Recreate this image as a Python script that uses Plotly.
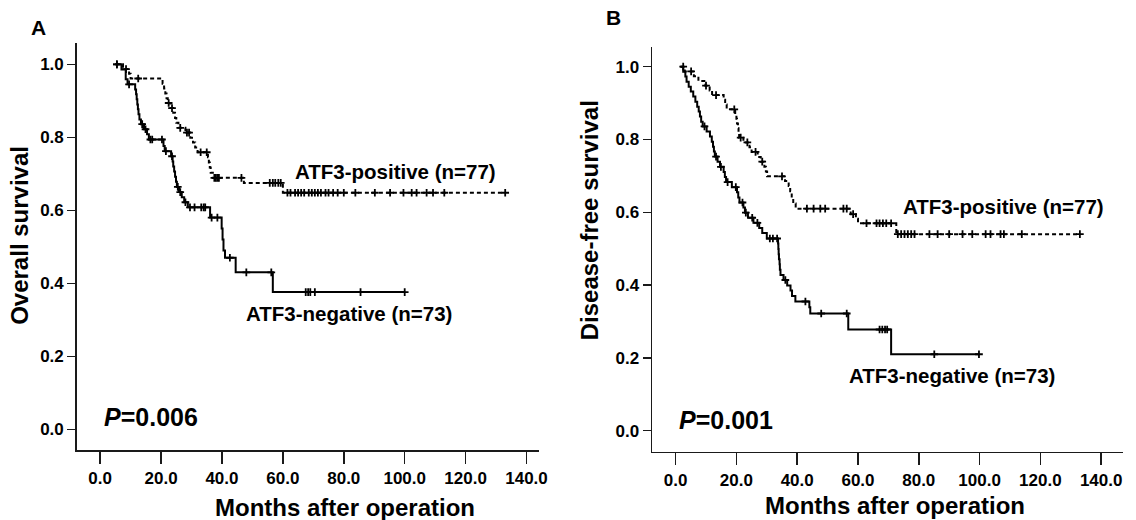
import plotly.graph_objects as go

# ---------------- data ----------------
x_tick_vals = [0, 20, 40, 60, 80, 100, 120, 140]
x_tick_text = ["0.0", "20.0", "40.0", "60.0", "80.0", "100.0", "120.0", "140.0"]
y_tick_vals = [0.0, 0.2, 0.4, 0.6, 0.8, 1.0]
y_tick_text = ["0.0", "0.2", "0.4", "0.6", "0.8", "1.0"]

# Panel A - Overall survival, ATF3-negative (solid)
a_neg_start = 5.0
a_neg_t = [7.0, 8.4, 9.0, 11.5, 11.8, 12.0, 12.2, 12.4, 12.6, 12.9, 13.4, 14.4, 15.4, 16.0,
           20.8, 21.2, 23.3, 23.8, 24.0, 24.3, 24.6, 24.9, 25.2, 25.9, 26.8, 27.6, 28.8,
           36.1, 39.9, 40.2, 40.5, 41.0, 44.5, 56.7]
a_neg_s = [0.986, 0.959, 0.945, 0.931, 0.918, 0.904, 0.890, 0.877, 0.863, 0.849, 0.836, 0.822, 0.808, 0.794,
           0.776, 0.762, 0.748, 0.734, 0.720, 0.706, 0.692, 0.678, 0.664, 0.650, 0.636, 0.622, 0.608,
           0.580, 0.550, 0.520, 0.490, 0.470, 0.430, 0.376]
a_neg_end = 100.0
a_neg_cens_t = [5.5, 9.5, 13.8, 14.9, 16.5, 17.1, 20.3, 21.6, 23.6, 25.5, 26.3, 28.0, 29.5, 31.0, 33.2,
                34.0, 34.5, 36.6, 38.5, 42.6, 48.0, 56.2, 67.5, 68.3, 69.0, 70.5, 85.5, 100.0]
a_neg_cens_s = [1.0, 0.945, 0.836, 0.822, 0.794, 0.794, 0.794, 0.762, 0.748, 0.664, 0.650, 0.622, 0.608, 0.608, 0.608,
                0.608, 0.608, 0.580, 0.580, 0.470, 0.430, 0.430, 0.376, 0.376, 0.376, 0.376, 0.376, 0.376]

# Panel A - ATF3-positive (dashed)
a_pos_start = 5.0
a_pos_t = [7.5, 9.5, 10.0, 20.5, 21.0, 21.4, 21.8, 22.2, 23.0, 24.0, 24.6, 25.0, 25.7, 28.0, 29.6, 30.5,
           31.2, 32.0, 35.4, 35.7, 36.0, 36.3, 37.0, 47.2, 60.0]
a_pos_s = [0.987, 0.974, 0.961, 0.947, 0.934, 0.920, 0.907, 0.894, 0.880, 0.867, 0.853, 0.840, 0.826, 0.813, 0.799, 0.786,
           0.772, 0.759, 0.745, 0.731, 0.717, 0.703, 0.689, 0.675, 0.648]
a_pos_end = 133.0
a_pos_cens_t = [5.5, 8.5, 12.5, 22.5, 23.6, 26.3, 28.5, 29.2, 33.0, 35.0, 37.5, 38.0, 38.5, 39.0, 46.4,
                55.7, 56.7, 57.5, 58.5, 59.3, 61.5, 62.5, 64.0, 65.0, 66.0, 67.0, 68.5, 69.5, 70.5, 71.5,
                72.5, 74.0, 75.0, 76.5, 78.0, 80.0, 83.8, 90.2, 95.2, 99.6, 102.3, 103.9, 107.2, 109.3, 113.0, 133.0]
a_pos_cens_s = [1.0, 0.987, 0.961, 0.894, 0.880, 0.826, 0.813, 0.813, 0.759, 0.759, 0.689, 0.689, 0.689, 0.689, 0.689,
                0.675, 0.675, 0.675, 0.675, 0.675, 0.648, 0.648, 0.648, 0.648, 0.648, 0.648, 0.648, 0.648, 0.648, 0.648,
                0.648, 0.648, 0.648, 0.648, 0.648, 0.648, 0.648, 0.648, 0.648, 0.648, 0.648, 0.648, 0.648, 0.648, 0.648, 0.648]

# Panel B - Disease-free survival, ATF3-negative (solid)
b_neg_start = 1.6
b_neg_t = [2.5, 3.2, 3.6, 4.3, 5.0, 5.8, 6.5, 7.1, 7.6, 8.0, 8.4, 8.9, 10.2, 11.3, 11.9, 12.3, 12.6, 12.9,
           13.8, 14.6, 15.8, 16.2, 16.6, 18.5, 20.2, 20.6, 21.0, 22.3, 22.8, 23.8, 25.6, 27.5, 28.5, 30.0,
           33.7, 33.8, 33.9, 34.0, 34.2, 34.3, 34.5, 35.5, 36.7, 37.8, 38.3, 39.4, 44.0, 44.3, 56.8, 70.9]
b_neg_s = [0.986, 0.973, 0.959, 0.945, 0.932, 0.918, 0.904, 0.890, 0.877, 0.863, 0.849, 0.836, 0.822, 0.808, 0.794, 0.780, 0.767, 0.753,
           0.739, 0.725, 0.711, 0.697, 0.683, 0.669, 0.655, 0.641, 0.627, 0.613, 0.599, 0.585, 0.571, 0.557, 0.543, 0.528,
           0.514, 0.499, 0.485, 0.471, 0.457, 0.442, 0.428, 0.414, 0.399, 0.385, 0.370, 0.355, 0.339, 0.322, 0.278, 0.210]
b_neg_end = 99.8
b_neg_cens_t = [9.5, 13.3, 14.9, 17.1, 19.8, 22.0, 23.1, 25.2, 26.9, 31.0, 32.0, 33.4, 36.1, 42.7, 47.9,
                56.3, 67.1, 68.0, 68.9, 69.6, 85.1, 99.8]
b_neg_cens_s = [0.836, 0.753, 0.725, 0.683, 0.669, 0.627, 0.599, 0.585, 0.571, 0.528, 0.528, 0.528, 0.414, 0.355, 0.322,
                0.322, 0.278, 0.278, 0.278, 0.278, 0.210, 0.210]

# Panel B - ATF3-positive (dashed)
b_pos_start = 1.6
b_pos_t = [3.0, 6.0, 7.5, 9.8, 11.2, 12.0, 15.8, 16.3, 16.8, 19.6, 20.0, 20.2, 20.5, 20.7, 20.9, 22.3, 24.3,
           25.0, 27.0, 28.0, 29.2, 29.7, 30.1, 36.0, 37.2, 37.7, 38.2, 38.7, 39.5, 57.6, 59.3, 60.0, 72.6]
b_pos_s = [0.987, 0.974, 0.961, 0.948, 0.935, 0.922, 0.909, 0.896, 0.883, 0.870, 0.857, 0.844, 0.831, 0.818, 0.805, 0.792, 0.779,
           0.766, 0.752, 0.739, 0.725, 0.712, 0.699, 0.686, 0.672, 0.658, 0.638, 0.624, 0.610, 0.595, 0.582, 0.570, 0.540]
b_pos_end = 133.0
b_pos_cens_t = [2.5, 5.1, 10.0, 13.3, 19.3, 21.4, 23.6, 26.3, 28.5, 35.0, 43.2, 45.4, 47.6, 49.2, 55.2, 56.3, 58.4,
                62.8, 66.1, 67.1, 68.2, 69.3, 70.9, 73.1, 74.2, 75.3, 76.4, 77.5, 78.6, 83.5, 86.2, 90.0, 94.4,
                97.6, 102.0, 103.6, 106.9, 108.0, 113.9, 133.0]
b_pos_cens_s = [1.0, 0.987, 0.948, 0.922, 0.883, 0.805, 0.792, 0.766, 0.739, 0.699, 0.610, 0.610, 0.610, 0.610, 0.610, 0.610, 0.595,
                0.570, 0.570, 0.570, 0.570, 0.570, 0.570, 0.540, 0.540, 0.540, 0.540, 0.540, 0.540, 0.540, 0.540, 0.540, 0.540,
                0.540, 0.540, 0.540, 0.540, 0.540, 0.540, 0.540]

# ---------------- figure ----------------
W, H = 1136, 520
FONT = "Liberation Sans, Arial, sans-serif"


def fx(px):
    return px / W


def fy(py):
    return 1 - py / H


fig = go.Figure()


def add_km(xa, ya, t0, st, ss, tend, ct, cs, dash):
    xs = [t0] + st + [tend]
    ys = [1.0] + ss + [ss[-1]]
    fig.add_trace(go.Scatter(x=xs, y=ys, mode="lines", xaxis=xa, yaxis=ya,
                             line=dict(color="black", width=2, dash=dash, shape="hv"),
                             showlegend=False, hoverinfo="skip"))
    fig.add_trace(go.Scatter(x=ct, y=cs, mode="markers", xaxis=xa, yaxis=ya,
                             marker=dict(symbol="cross-thin", size=5.5,
                                         line=dict(color="black", width=1.8)),
                             showlegend=False, hoverinfo="skip"))


add_km("x", "y", a_neg_start, a_neg_t, a_neg_s, a_neg_end, a_neg_cens_t, a_neg_cens_s, "solid")
add_km("x", "y", a_pos_start, a_pos_t, a_pos_s, a_pos_end, a_pos_cens_t, a_pos_cens_s, "4px,3px")
add_km("x2", "y2", b_neg_start, b_neg_t, b_neg_s, b_neg_end, b_neg_cens_t, b_neg_cens_s, "solid")
add_km("x2", "y2", b_pos_start, b_pos_t, b_pos_s, b_pos_end, b_pos_cens_t, b_pos_cens_s, "4px,3px")

tickfont = dict(family=FONT, size=17, color="black", weight="bold")
common_x = dict(showline=True, linecolor="#1a1a1a", linewidth=1.5, ticks="outside", ticklen=12,
                tickwidth=1.5, tickcolor="#1a1a1a", tickvals=x_tick_vals, ticktext=x_tick_text,
                showgrid=False, zeroline=False, tickfont=tickfont, fixedrange=True)
common_y = dict(showline=True, linecolor="#1a1a1a", linewidth=1.5, ticks="outside", ticklen=8,
                tickwidth=1.5, tickcolor="#1a1a1a", tickvals=y_tick_vals, ticktext=y_tick_text,
                showgrid=False, zeroline=False, tickfont=tickfont, fixedrange=True)

fig.update_layout(
    width=W, height=H, margin=dict(l=0, r=0, t=0, b=0),
    paper_bgcolor="white", plot_bgcolor="white", showlegend=False,
    xaxis=dict(domain=[fx(77.3), fx(543)], range=[-7.7, 144.0], anchor="y", **common_x),
    yaxis=dict(domain=[fy(450), fy(43.3)], range=[-0.0567, 1.0575], anchor="x", **common_y),
    xaxis2=dict(domain=[fx(657.3), fx(1132)], range=[-7.74, 147.2], anchor="y2", **common_x),
    yaxis2=dict(domain=[fy(451.7), fy(46.7)], range=[-0.0577, 1.055], anchor="x2", **common_y),
)


def ann(text, px, py, size, xanchor="center", angle=0):
    fig.add_annotation(text=text, x=fx(px), y=fy(py), xref="paper", yref="paper",
                       xanchor=xanchor, yanchor="middle", showarrow=False, textangle=angle,
                       font=dict(family=FONT, size=size, color="black"))


# Panel A texts
ann("<b>A</b>", 39, 27, 21)
ann("<b>Overall survival</b>", 20, 235, 24, angle=-90)
ann("<b>Months after operation</b>", 348, 507, 24)
ann("<b>ATF3-positive (n=77)</b>", 295, 172, 20.5, xanchor="left")
ann("<b>ATF3-negative (n=73)</b>", 246, 313, 20.5, xanchor="left")
ann("<b><i>P</i>=0.006</b>", 103, 417, 25, xanchor="left")

# Panel B texts
ann("<b>B</b>", 618, 18, 21)
ann("<b>Disease-free survival</b>", 594, 220, 24, angle=-90)
ann("<b>Months after operation</b>", 902, 505, 24)
ann("<b>ATF3-positive (n=77)</b>", 908, 207, 20.5, xanchor="left")
ann("<b>ATF3-negative (n=73)</b>", 854, 375, 20.5, xanchor="left")
ann("<b><i>P</i>=0.001</b>", 682, 420, 25, xanchor="left")

fig.write_html("out.html", config={"displayModeBar": False, "staticPlot": True})

# remove the browser's default page margin so the figure sits at the window's top-left corner
with open("out.html", "r", encoding="utf-8") as f:
    page = f.read()
page = page.replace("<head>", "<head><style>html,body{margin:0;padding:0;overflow:hidden;}</style>", 1)
with open("out.html", "w", encoding="utf-8") as f:
    f.write(page)
